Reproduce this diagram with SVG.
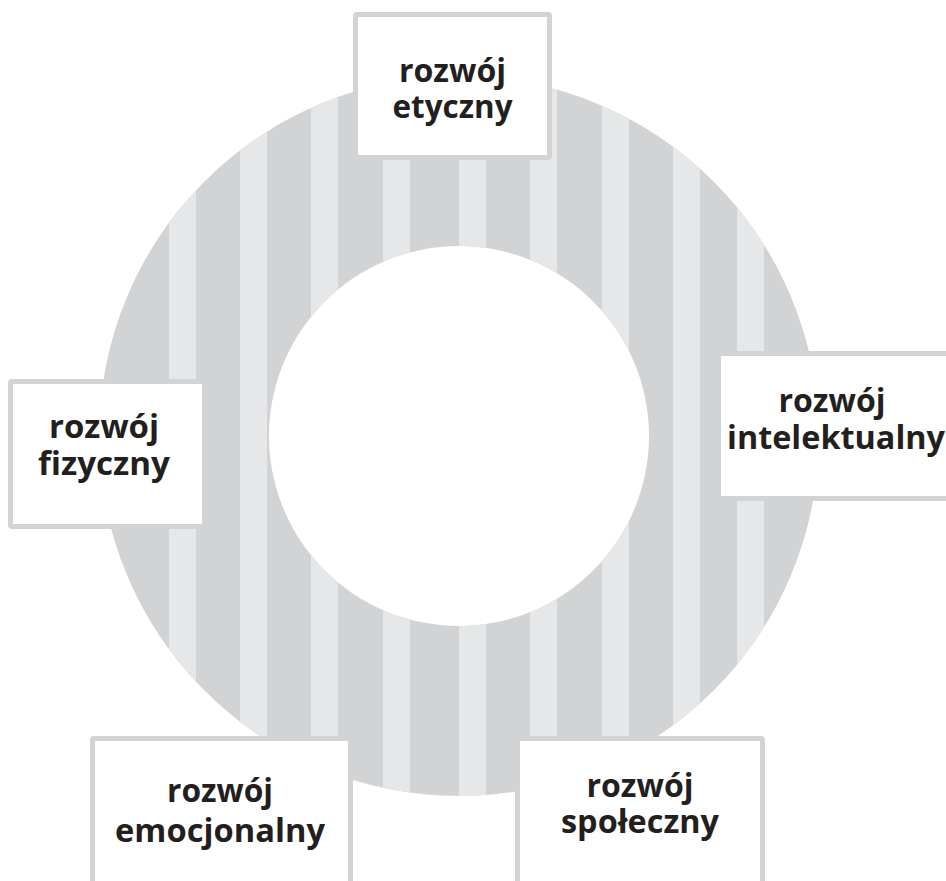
<svg xmlns="http://www.w3.org/2000/svg" width="946" height="881" viewBox="0 0 946 881">
<style>
.ring{fill:#d1d3d4;fill-rule:evenodd}
.stripe{fill:#e6e7e8}
.box{fill:#ffffff;stroke:#d1d3d4;stroke-width:5;stroke-linejoin:round}
.lbl{font-family:"Open Sans","Noto Sans","Liberation Sans",sans-serif;font-weight:700;font-size:33px;fill:#231f20;text-anchor:middle}
</style>
<defs>
<clipPath id="ringClip">
<path clip-rule="evenodd" d="M459 76A360 360 0 1 1 459 796A360 360 0 1 1 459 76ZM459 246A190 190 0 1 0 459 626A190 190 0 1 0 459 246Z"/>
</clipPath>
</defs>
<rect width="946" height="881" fill="#ffffff"/>
<g id="ring">
<path class="ring" d="M459 76A360 360 0 1 1 459 796A360 360 0 1 1 459 76ZM459 246A190 190 0 1 0 459 626A190 190 0 1 0 459 246Z"/>
<g clip-path="url(#ringClip)">
<rect class="stripe" x="169" y="60" width="27" height="760"/>
<rect class="stripe" x="240" y="60" width="27" height="760"/>
<rect class="stripe" x="311" y="60" width="27" height="760"/>
<rect class="stripe" x="383" y="60" width="27" height="760"/>
<rect class="stripe" x="459" y="60" width="27" height="760"/>
<rect class="stripe" x="530" y="60" width="27" height="760"/>
<rect class="stripe" x="602" y="60" width="27" height="760"/>
<rect class="stripe" x="673" y="60" width="27" height="760"/>
<rect class="stripe" x="737" y="60" width="27" height="760"/>
</g>
</g>
<g id="connectors"></g>
<g id="node-etyczny">
<rect class="box" x="355.5" y="14.5" width="194" height="143" rx="1.5"/>
<text class="lbl" x="452.5" y="82" textLength="107" lengthAdjust="spacingAndGlyphs">rozwój</text>
<text class="lbl" x="452.5" y="118" textLength="120" lengthAdjust="spacingAndGlyphs">etyczny</text>
</g>
<g id="node-fizyczny">
<rect class="box" x="10.5" y="381.5" width="194" height="145" rx="1.5"/>
<text class="lbl" x="104" y="438" textLength="110" lengthAdjust="spacingAndGlyphs">rozwój</text>
<text class="lbl" x="104" y="475" textLength="132" lengthAdjust="spacingAndGlyphs">fizyczny</text>
</g>
<g id="node-intelektualny">
<rect class="box" x="718.5" y="353.5" width="250" height="145" rx="1.5"/>
<text class="lbl" x="832" y="412" textLength="107" lengthAdjust="spacingAndGlyphs">rozwój</text>
<text class="lbl" x="836" y="449" textLength="218" lengthAdjust="spacingAndGlyphs">intelektualny</text>
</g>
<g id="node-emocjonalny">
<rect class="box" x="92.5" y="738.5" width="258" height="170" rx="1.5"/>
<text class="lbl" x="220" y="802" textLength="106" lengthAdjust="spacingAndGlyphs">rozwój</text>
<text class="lbl" x="220" y="842" textLength="210" lengthAdjust="spacingAndGlyphs">emocjonalny</text>
</g>
<g id="node-spoleczny">
<rect class="box" x="517.5" y="738.5" width="245" height="170" rx="1.5"/>
<text class="lbl" x="640" y="797" textLength="107" lengthAdjust="spacingAndGlyphs">rozwój</text>
<text class="lbl" x="640" y="833" textLength="158" lengthAdjust="spacingAndGlyphs">społeczny</text>
</g>
</svg>
